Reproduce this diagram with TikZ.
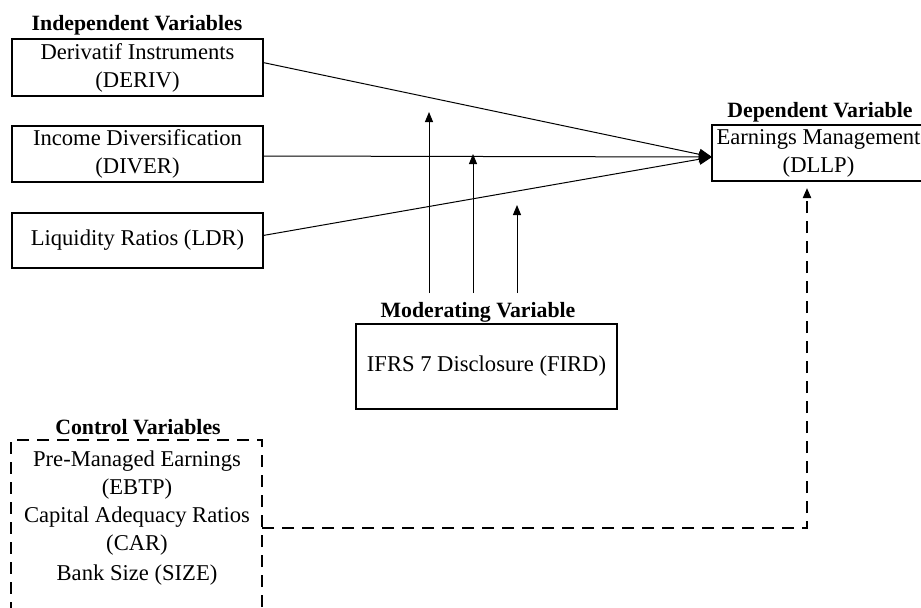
\documentclass[tikz,border=0pt]{standalone}
\usepackage{fontspec}
\setmainfont{Liberation Serif}
\usetikzlibrary{arrows.meta}
\tikzset{
  varbox/.style={draw,line width=1pt,inner sep=0pt,outer sep=0pt,align=center},
  ctrlbox/.style={varbox,dashed,dash pattern=on 6pt off 4pt},
  vartitle/.style={font=\fontsize{10.9}{13}\selectfont\bfseries},
  link/.style={->,line width=.5pt},
  mainlink/.style={link,>={Triangle[length=6.5pt,width=5.5pt]}},
  ctrllink/.style={->,line width=1pt,dash pattern=on 6pt off 4pt}
}
\begin{document}
\begin{tikzpicture}[x=0.5pt,y=-0.5pt,>={Triangle[length=5pt,width=4pt]},
  line join=miter,font=\fontsize{11.3}{14}\selectfont]
\useasboundingbox (0,0) rectangle (921,607);
\clip (0,0) rectangle (921,607);
% independent variables
\node[vartitle] (indtitle) at (137,25) {Independent Variables};
\node[varbox,minimum width=125.5pt,minimum height=28.5pt] (deriv) at (137.5,67.5) {Derivatif Instruments\\(DERIV)};
\node[varbox,minimum width=125.5pt,minimum height=28pt] (diver) at (137.5,154) {Income Diversification\\(DIVER)};
\node[varbox,minimum width=125.5pt,minimum height=27.5pt] (ldr) at (137.5,240.5) {Liquidity Ratios (LDR)};
% dependent variable
\node[vartitle] (deptitle) at (820,112) {Dependent Variable};
\node[varbox,minimum width=106.5pt,minimum height=28pt] (dllp) at (818.5,153) {Earnings Management\\(DLLP)};
% moderating variable
\node[vartitle] (modtitle) at (478,312) {Moderating Variable};
\node[varbox,minimum width=130.5pt,minimum height=42.5pt] (fird) at (486.5,366.5) {IFRS 7 Disclosure (FIRD)};
% control variables
\node[vartitle] (ctrltitle) at (138,427) {Control Variables};
\node[ctrlbox,minimum width=125.5pt,minimum height=88pt] (ctrl) at (136.5,528) {};
\node[align=center,inner sep=0pt] (ctrltxt) at (137,503) {Pre-Managed Earnings\\(EBTP)\\Capital Adequacy Ratios\\(CAR)};
\node[inner sep=0pt] (sizetxt) at (137,575) {Bank Size (SIZE)};
% links
\coordinate (tip) at (712,157);
\draw[mainlink] ([yshift=2.5pt]deriv.east) -- (tip);
\draw[mainlink] ([yshift=-1pt]diver.east) -- (tip);
\draw[mainlink] ([yshift=2.5pt]ldr.east) -- (tip);
\coordinate (m1) at (429,293);
\coordinate (m2) at (473,293);
\coordinate (m3) at (517,293);
\draw[link] (m1) -- ++(0,-181);
\draw[link] (m2) -- ++(0,-139);
\draw[link] (m3) -- ++(0,-88);
\draw[ctrllink] (ctrl.east) -| ([xshift=-5.75pt,yshift=-3.5pt]dllp.south);
\end{tikzpicture}
\end{document}
